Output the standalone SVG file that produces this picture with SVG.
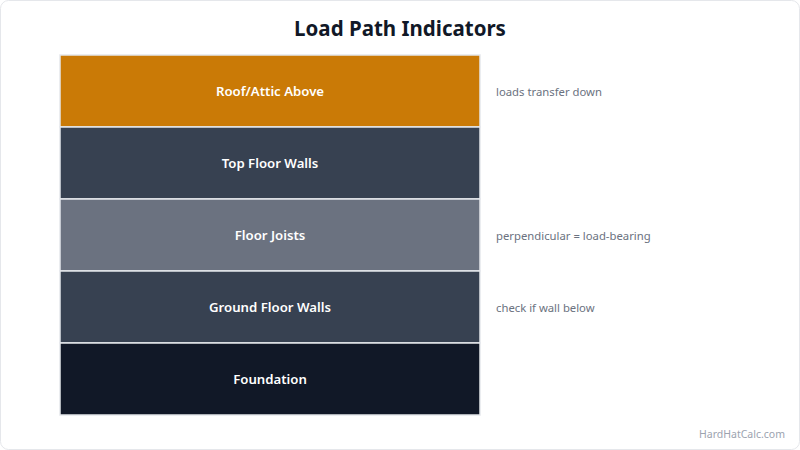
<svg xmlns="http://www.w3.org/2000/svg" width="800" height="450" viewBox="0 0 800 450">
<style>
.bg{fill:#ffffff;stroke:#e5e7eb;stroke-width:1}
.title{font-family:"Noto Sans","Open Sans","Liberation Sans",sans-serif;font-size:20.5px;font-weight:700;fill:#111827}
.layer{stroke:#e5e7eb;stroke-width:1.5}
.lbl{font-family:"Noto Sans","Open Sans","Liberation Sans",sans-serif;font-size:13.2px;font-weight:600;fill:#ffffff}
.side{font-family:"Noto Sans","Open Sans","Liberation Sans",sans-serif;font-size:11.3px;fill:#6b7280}
.foot{font-family:"Noto Sans","Open Sans","Liberation Sans",sans-serif;font-size:10.5px;fill:#9ca3af}
</style>
<rect class="bg" x="0.5" y="0.5" width="799" height="449" rx="8"/>
<text class="title" x="400" y="36" text-anchor="middle">Load Path Indicators</text>
<g id="roof">
<rect class="layer" x="60" y="55" width="420" height="72" fill="#ca7a06"/>
<text class="lbl" x="270" y="95.5" text-anchor="middle">Roof/Attic Above</text>
<text class="side" x="496" y="95.5">loads transfer down</text>
</g>
<g id="top-floor-walls">
<rect class="layer" x="60" y="127" width="420" height="72" fill="#374151"/>
<text class="lbl" x="270" y="167.5" text-anchor="middle">Top Floor Walls</text>
</g>
<g id="floor-joists">
<rect class="layer" x="60" y="199" width="420" height="72" fill="#6b7280"/>
<text class="lbl" x="270" y="239.5" text-anchor="middle">Floor Joists</text>
<text class="side" x="496" y="239.5">perpendicular = load-bearing</text>
</g>
<g id="ground-floor-walls">
<rect class="layer" x="60" y="271" width="420" height="72" fill="#374151"/>
<text class="lbl" x="270" y="311.5" text-anchor="middle">Ground Floor Walls</text>
<text class="side" x="496" y="311.5">check if wall below</text>
</g>
<g id="foundation">
<rect class="layer" x="60" y="343" width="420" height="72" fill="#111827"/>
<text class="lbl" x="270" y="383.5" text-anchor="middle">Foundation</text>
</g>
<g id="connectors"></g>
<text class="foot" x="785" y="438" text-anchor="end">HardHatCalc.com</text>
</svg>
